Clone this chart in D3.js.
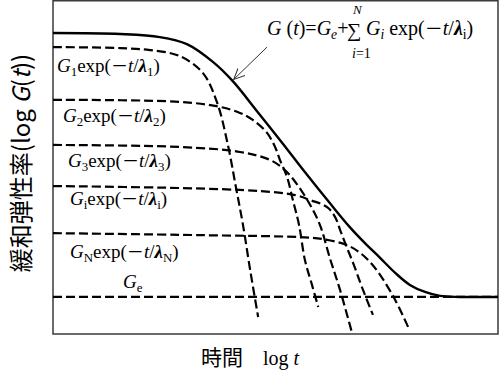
<!DOCTYPE html>
<html>
<head>
<meta charset="utf-8">
<script src="https://cdn.jsdelivr.net/npm/d3@7"></script>
<style>
  html, body { margin: 0; padding: 0; background: #fff; }
  svg { display: block; }
  .serif { font-family: "Liberation Serif", "DejaVu Serif", serif; }
  .jp { font-family: "Noto Sans CJK JP", sans-serif; }
</style>
</head>
<body>
<div id="chart"></div>
<script>
// schematic: log t (0..10) vs log G (0..10)

const totalCurve = [
  [0, 9.01], [1.51, 8.98], [2.40, 8.89], [3.01, 8.68], [3.60, 8.14], [4.04, 7.57],
  [4.58, 6.68], [5.17, 5.69], [5.66, 4.85], [6.22, 3.92], [6.67, 3.20], [7.01, 2.72],
  [7.35, 2.28], [7.69, 1.83], [8.02, 1.47], [8.36, 1.26], [8.70, 1.14], [9.15, 1.11], [10, 1.11]
];

const mode1 = [[0, 8.59], [1.51, 8.56], [2.18, 8.50], [2.85, 8.32], [3.37, 7.81], [3.69, 6.92],
  [3.93, 5.66], [4.11, 4.40], [4.27, 3.26], [4.43, 1.92], [4.61, 0.51]];
const mode2 = [[0, 7.01], [2.85, 6.95], [3.75, 6.80], [4.20, 6.62], [4.49, 6.41], [4.81, 6.02],
  [4.99, 5.60], [5.10, 5.21], [5.26, 4.70], [5.39, 4.01], [5.53, 3.26], [5.66, 2.22],
  [5.82, 1.47], [5.96, 0.81]];
const mode3 = [[0, 5.66], [2.85, 5.60], [4.20, 5.45], [4.88, 5.21], [5.21, 4.91], [5.48, 4.49],
  [5.78, 3.86], [6.00, 3.26], [6.22, 2.28], [6.45, 1.32], [6.72, 0.03]];
const modeI = [[0, 4.43], [2.85, 4.37], [4.65, 4.28], [5.44, 4.16], [5.78, 4.01], [6.16, 3.80],
  [6.34, 3.50], [6.47, 3.05], [6.61, 2.57], [6.76, 2.07], [6.94, 1.41], [7.19, 0.57]];
const modeN = [[0, 3.02], [3.30, 2.96], [5.55, 2.90], [6.07, 2.84], [6.61, 2.66], [6.90, 2.43],
  [7.12, 2.16], [7.35, 1.77], [7.69, 1.02], [7.98, 0.21]];
const geLevel = 1.11;

const modes = [mode1, mode2, mode3, modeI, modeN];
const modeSubs = ['1', '2', '3', 'i', 'N'];

// arrow from formula to the total curve
const arrowFrom = [4.81, 8.59];
const arrowTo = [4.06, 7.62];

const W = 500, H = 374;
const M = { left: 53, right: 498, top: 0, bottom: 334 };

const x = d3.scaleLinear().domain([0, 10]).range([M.left, M.right]);
const y = d3.scaleLinear().domain([0, 10]).range([M.bottom, M.top]);

const svg = d3.select('#chart').append('svg')
  .attr('width', W).attr('height', H);

svg.append('defs').append('marker')
  .attr('id', 'arr')
  .attr('viewBox', '0 0 12 12')
  .attr('refX', 11).attr('refY', 6)
  .attr('markerWidth', 12).attr('markerHeight', 12)
  .attr('markerUnits', 'userSpaceOnUse')
  .attr('orient', 'auto')
  .append('path')
  .attr('d', 'M0,1 L11,6 L0,11')
  .attr('fill', 'none')
  .attr('stroke', '#333')
  .attr('stroke-width', 1);

// frame
svg.append('rect')
  .attr('x', M.left).attr('y', M.top + 0.75)
  .attr('width', M.right - M.left).attr('height', M.bottom - M.top - 0.75)
  .attr('fill', 'none')
  .attr('stroke', '#3a3a3a')
  .attr('stroke-width', 1.5);

const line = d3.line()
  .x(d => x(d[0])).y(d => y(d[1]))
  .curve(d3.curveCatmullRom.alpha(0.5));

// Ge level
svg.append('line')
  .attr('x1', x(0)).attr('x2', x(10))
  .attr('y1', y(geLevel)).attr('y2', y(geLevel))
  .attr('stroke', '#000').attr('stroke-width', 2.2)
  .attr('stroke-dasharray', '9,4');

svg.append('g').selectAll('path')
  .data(modes)
  .join('path')
  .attr('d', line)
  .attr('fill', 'none')
  .attr('stroke', '#000')
  .attr('stroke-width', 2.2)
  .attr('stroke-dasharray', '9,4');

svg.append('path')
  .datum(totalCurve)
  .attr('d', line)
  .attr('fill', 'none')
  .attr('stroke', '#000')
  .attr('stroke-width', 2.4);

svg.append('line')
  .attr('x1', x(arrowFrom[0])).attr('y1', y(arrowFrom[1]))
  .attr('x2', x(arrowTo[0])).attr('y2', y(arrowTo[1]))
  .attr('stroke', '#333').attr('stroke-width', 1)
  .attr('marker-end', 'url(#arr)');

// ── rich text helper: [text, style] with style in i, b (bold italic), sub, isub, m (wide minus)
function rich(sel, parts, size) {
  let lowered = false;
  parts.forEach(([t, s]) => {
    const ts = sel.append('tspan').text(t);
    const isSub = s === 'sub' || s === 'isub';
    if (isSub && !lowered) { ts.attr('dy', size * 0.22); lowered = true; }
    else if (!isSub && lowered) { ts.attr('dy', -size * 0.22); lowered = false; }
    if (s === 'i' || s === 'isub') ts.attr('font-style', 'italic');
    if (s === 'b') ts.attr('font-style', 'italic').attr('font-weight', 'bold');
    if (isSub) ts.attr('font-size', size * 0.68);
    if (s === 'm') ts.attr('font-family', '"Noto Sans CJK JP", sans-serif').attr('font-size', size * 0.9);
  });
  return sel;
}

const labelPos = [[57, 72], [63, 122], [68, 167], [70, 205], [70, 258]];
modeSubs.forEach((sub, k) => {
  const fs = 19;
  const t = svg.append('text').attr('class', 'serif')
    .attr('x', labelPos[k][0]).attr('y', labelPos[k][1]).attr('font-size', fs);
  rich(t, [['G', 'i'], [sub, 'sub'], ['exp(', ''], ['－', 'm'], ['t', 'i'], ['/', ''],
           ['λ', 'b'], [sub, 'sub'], [')', '']], fs);
});

const geT = svg.append('text').attr('class', 'serif')
  .attr('x', 123).attr('y', 288).attr('font-size', 19);
rich(geT, [['G', 'i'], ['e', 'sub']], 19);

// formula
const fs = 20;
const f1 = svg.append('text').attr('class', 'serif')
  .attr('x', 267).attr('y', 35).attr('font-size', fs);
rich(f1, [['G', 'i'], [' (', ''], ['t', 'i'], [')=', ''], ['G', 'i'], ['e', 'isub'], ['+', '']], fs);

svg.append('text').attr('class', 'serif')
  .attr('x', 347).attr('y', 37).attr('font-size', 20).text('∑');

const f3 = svg.append('text').attr('class', 'serif')
  .attr('x', 366).attr('y', 35).attr('font-size', fs);
rich(f3, [['G', 'i'], ['i', 'isub'], [' exp(', ''], ['－', 'm'],
          ['t', 'i'], ['/', ''], ['λ', 'b'], ['i', 'sub'], [')', '']], fs);

svg.append('text').attr('class', 'serif')
  .attr('x', 353).attr('y', 14).attr('font-size', 13)
  .attr('font-style', 'italic').text('N');

const f2 = svg.append('text').attr('class', 'serif')
  .attr('x', 352).attr('y', 58).attr('font-size', 14);
rich(f2, [['i', 'i'], ['=1', '']], 14);

// axis titles
const yt = svg.append('text').attr('class', 'jp')
  .attr('transform', 'translate(19,163) rotate(-90)')
  .attr('text-anchor', 'middle')
  .attr('dominant-baseline', 'central')
  .attr('font-size', 24);
rich(yt, [['緩和弾性率(log ', ''], ['G', 'i'], ['(', ''], ['t', 'i'], ['))', '']], 24);

svg.append('text').attr('class', 'jp')
  .attr('x', 201).attr('y', 365).attr('font-size', 21)
  .text('時間');

const xt = svg.append('text').attr('class', 'serif')
  .attr('x', 263).attr('y', 365).attr('font-size', 20);
rich(xt, [['log ', ''], ['t', 'i']], 20);
</script>
</body>
</html>
